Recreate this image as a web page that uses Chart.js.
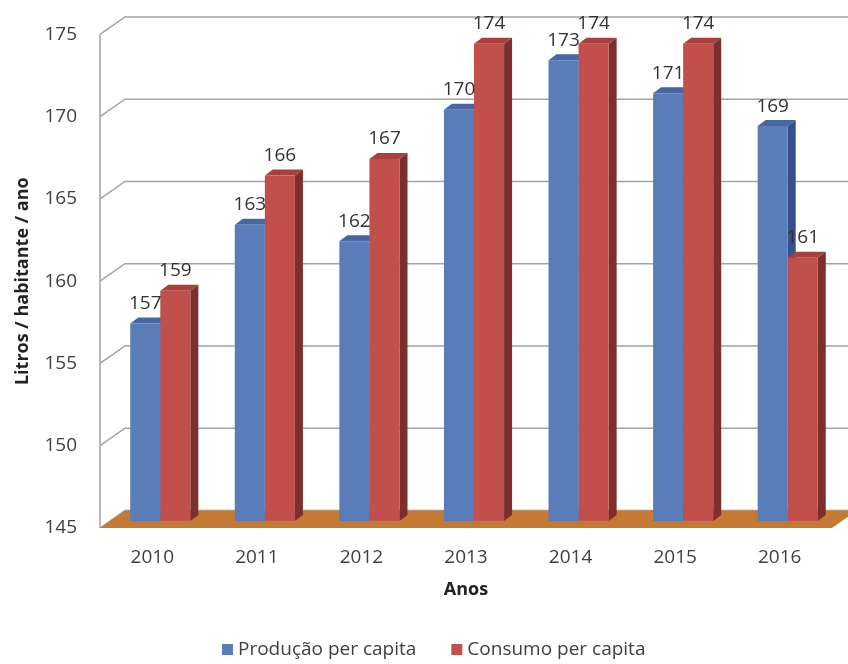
<!DOCTYPE html>
<html>
<head>
<meta charset="utf-8">
<script src="https://cdn.jsdelivr.net/npm/chart.js@4.4.1/dist/chart.umd.min.js"></script>
<style>
  html, body { margin: 0; padding: 0; background: #ffffff; }
  #wrap { width: 848px; height: 664px; }
</style>
</head>
<body>
<div id="wrap"><canvas id="chart" width="848" height="664"></canvas></div>
<script>
// Anos e valores (litros por habitante por ano)
const anos = ['2010', '2011', '2012', '2013', '2014', '2015', '2016'];
const producao = [157, 163, 162, 170, 173, 171, 169];
const consumo = [159, 166, 167, 174, 174, 174, 161];
const serieNomes = ['Produção per capita', 'Consumo per capita'];
const eixoY = { min: 145, max: 175, passo: 5 };

// Cores: face frontal, topo e lateral de cada série
const cores = [
  { frente: '#5A7CB9', topo: '#4766A2', lado: '#36508A' },
  { frente: '#C1504C', topo: '#A8413E', lado: '#7C2F2D' }
];
const FONTE = "'Open Sans', 'DejaVu Sans', sans-serif";
const TEXTO = '#404040';

// Geometria da perspectiva
const PAREDE = { dx: 25, dy: -17.5 };   // profundidade das paredes e do piso
const DESLOC = { dx: 8, dy: -7 };       // posição das barras dentro do piso
const PROF = { dx: 8, dy: -6 };         // profundidade de cada barra

const plugin3d = {
  id: 'plugin3d',
  beforeDatasetsDraw(chart) {
    const { ctx, chartArea: a, scales: { y } } = chart;
    ctx.save();
    ctx.strokeStyle = '#A3A3A3';
    ctx.lineWidth = 1.5;
    const yTopo = y.getPixelForValue(y.max);
    const yBase = y.getPixelForValue(y.min);
    ctx.beginPath();
    ctx.moveTo(a.left, yTopo);
    ctx.lineTo(a.left, yBase);
    ctx.stroke();
    y.ticks.forEach(t => {
      const py = y.getPixelForValue(t.value);
      ctx.beginPath();
      ctx.moveTo(a.left, py);
      ctx.lineTo(a.left + PAREDE.dx, py + PAREDE.dy);
      ctx.lineTo(a.right + PAREDE.dx, py + PAREDE.dy);
      ctx.stroke();
    });
    // piso
    ctx.fillStyle = '#C47A33';
    ctx.beginPath();
    ctx.moveTo(a.left, yBase);
    ctx.lineTo(a.right, yBase);
    ctx.lineTo(a.right + PAREDE.dx, yBase + PAREDE.dy);
    ctx.lineTo(a.left + PAREDE.dx, yBase + PAREDE.dy);
    ctx.closePath();
    ctx.fill();
    ctx.restore();

    // faces de topo e laterais das barras, desenhadas antes das frentes
    ctx.save();
    ctx.translate(DESLOC.dx, DESLOC.dy);
    const metas = chart.data.datasets.map((d, i) => chart.getDatasetMeta(i));
    for (let i = 0; i < anos.length; i++) {
      metas.forEach((meta, s) => {
        const el = meta.data[i];
        if (!el) return;
        const { x, y: top, base, width } = el.getProps(['x', 'y', 'base', 'width'], true);
        const L = x - width / 2, R = x + width / 2;
        ctx.fillStyle = cores[s].topo;
        ctx.beginPath();
        ctx.moveTo(L, top);
        ctx.lineTo(L + PROF.dx, top + PROF.dy);
        ctx.lineTo(R + PROF.dx, top + PROF.dy);
        ctx.lineTo(R, top);
        ctx.closePath();
        ctx.fill();
        ctx.fillStyle = cores[s].lado;
        ctx.beginPath();
        ctx.moveTo(R, top);
        ctx.lineTo(R + PROF.dx, top + PROF.dy);
        ctx.lineTo(R + PROF.dx, base + PROF.dy);
        ctx.lineTo(R, base);
        ctx.closePath();
        ctx.fill();
      });
    }
  },
  afterDatasetsDraw(chart) {
    const { ctx } = chart;
    ctx.restore();
    // rótulos de valor
    ctx.save();
    ctx.font = '19px ' + FONTE;
    ctx.fillStyle = '#333333';
    ctx.textAlign = 'center';
    ctx.textBaseline = 'middle';
    chart.data.datasets.forEach((ds, s) => {
      const meta = chart.getDatasetMeta(s);
      meta.data.forEach((el, i) => {
        const { x, y } = el.getProps(['x', 'y'], true);
        ctx.fillText(String(ds.data[i]), x + DESLOC.dx, y + DESLOC.dy - 20);
      });
    });
    ctx.restore();
  },
  afterDraw(chart) {
    // legenda
    const { ctx } = chart;
    ctx.save();
    ctx.font = '19px ' + FONTE;
    ctx.textBaseline = 'middle';
    ctx.textAlign = 'left';
    const yc = 650;
    let x = 222;
    chart.data.datasets.forEach((ds, s) => {
      ctx.fillStyle = cores[s].frente;
      ctx.fillRect(x, yc - 6, 11, 11);
      x += 16;
      ctx.fillStyle = TEXTO;
      ctx.fillText(ds.label, x, yc);
      x += ctx.measureText(ds.label).width + 35;
    });
    ctx.restore();
  }
};

new Chart(document.getElementById('chart'), {
  type: 'bar',
  data: {
    labels: anos,
    datasets: [
      { label: serieNomes[0], data: producao, backgroundColor: cores[0].frente, base: eixoY.min },
      { label: serieNomes[1], data: consumo, backgroundColor: cores[1].frente, base: eixoY.min }
    ]
  },
  options: {
    responsive: false,
    animation: false,
    layout: { padding: { left: 0, right: 16, top: 34, bottom: 56 } },
    datasets: { bar: { barPercentage: 1, categoryPercentage: 0.575, clip: false } },
    plugins: { legend: { display: false }, tooltip: { enabled: false } },
    scales: {
      x: {
        grid: { display: false, drawTicks: false },
        border: { display: false },
        ticks: { color: TEXTO, font: { family: FONTE, size: 19 }, padding: 18 },
        title: { display: true, text: 'Anos', color: '#222222', font: { family: FONTE, size: 18, weight: 'bold' }, padding: { top: 0, bottom: 7 } },
        afterFit(scale) { scale.height = 80; }
      },
      y: {
        min: eixoY.min,
        max: eixoY.max,
        grid: { display: false, drawTicks: false },
        border: { display: false },
        ticks: { stepSize: eixoY.passo, color: TEXTO, font: { family: FONTE, size: 19 }, padding: 23 },
        title: { display: true, text: 'Litros / habitante / ano', color: '#222222', font: { family: FONTE, size: 18, weight: 'bold' }, padding: { top: 12, bottom: 0 } },
        afterFit(scale) { scale.width = 100; }
      }
    }
  },
  plugins: [plugin3d]
});
</script>
</body>
</html>
